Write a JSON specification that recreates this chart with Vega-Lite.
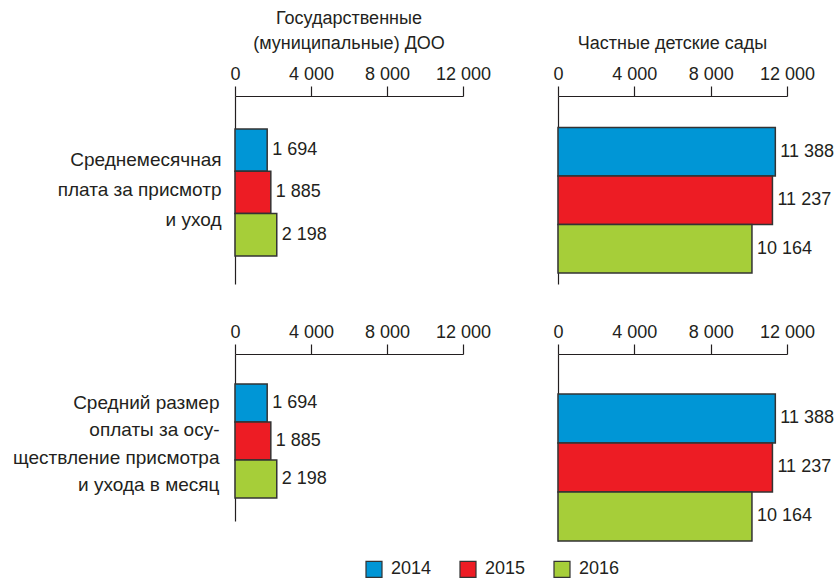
{
  "$schema": "https://vega.github.io/schema/vega-lite/v6.json",
  "background": "white",
  "padding": {"left": 12, "top": 10, "right": 5, "bottom": 0},
  "config": {
    "font": "Liberation Sans",
    "view": {"stroke": null},
    "locale": {"number": {"decimal": ",", "thousands": " ", "grouping": [3], "currency": ["", ""]}},
    "title": {"fontSize": 18, "fontWeight": "normal", "color": "#231f20", "anchor": "middle", "offset": 12, "lineHeight": 25},
    "axis": {"labelFontSize": 18, "labelColor": "#231f20", "domainColor": "#231f20", "tickColor": "#231f20", "grid": false},
    "legend": {"labelFontSize": 18, "labelColor": "#231f20"}
  },
  "data": {
    "values": [
      {"row": "a", "col": "gov", "year": "2014", "value": 1694},
      {"row": "a", "col": "gov", "year": "2015", "value": 1885},
      {"row": "a", "col": "gov", "year": "2016", "value": 2198},
      {"row": "a", "col": "priv", "year": "2014", "value": 11388},
      {"row": "a", "col": "priv", "year": "2015", "value": 11237},
      {"row": "a", "col": "priv", "year": "2016", "value": 10164},
      {"row": "b", "col": "gov", "year": "2014", "value": 1694},
      {"row": "b", "col": "gov", "year": "2015", "value": 1885},
      {"row": "b", "col": "gov", "year": "2016", "value": 2198},
      {"row": "b", "col": "priv", "year": "2014", "value": 11388},
      {"row": "b", "col": "priv", "year": "2015", "value": 11237},
      {"row": "b", "col": "priv", "year": "2016", "value": 10164}
    ]
  },
  "columns": 2,
  "bounds": "flush",
  "spacing": {"column": 95, "row": 70},
  "resolve": {"scale": {"y": "independent", "x": "independent"}},
  "concat": [
    {
      "width": 228, "height": 188,
      "title": {"text": ["Государственные", "(муниципальные) ДОО"]},
      "transform": [{"filter": "datum.row === 'a' && datum.col === 'gov'"}],
      "encoding": {
        "y": {"field": "year", "type": "nominal", "scale": {"paddingInner": 0, "paddingOuter": 0.72, "align": 0.54},
          "axis": {"labels": false, "ticks": false, "domainWidth": 1.2, "title": ["Среднемесячная", "плата за присмотр", "и уход"], "titleAngle": 0, "titleAlign": "right", "titleBaseline": "middle", "titleX": -14, "titleY": 63, "titleFontSize": 19, "titleFontWeight": "normal", "titleColor": "#231f20", "titleLineHeight": 30}},
        "x": {"field": "value", "type": "quantitative", "scale": {"domain": [0, 12000], "nice": false},
          "axis": {"orient": "top", "values": [0, 4000, 8000, 12000], "format": ",d", "tickSize": 10, "labelPadding": 3, "title": null, "domainWidth": 1.2, "tickWidth": 1.2, "labelFlush": false}}
      },
      "layer": [
        {"mark": {"type": "bar", "stroke": "#333333", "strokeWidth": 1.5},
          "encoding": {"fill": {"field": "year", "type": "nominal", "scale": {"domain": ["2014", "2015", "2016"], "range": ["#0096d6", "#ed1c24", "#a6ce39"]},
            "legend": {"title": null, "orient": "none", "legendX": 130, "legendY": 464, "direction": "horizontal", "symbolType": "square", "symbolSize": 256, "symbolStrokeColor": "#333333", "symbolStrokeWidth": 1.2, "columnPadding": 25, "labelOffset": 8}}}},
        {"mark": {"type": "text", "align": "left", "baseline": "middle", "dx": 5, "fontSize": 18, "color": "#231f20"},
          "encoding": {"text": {"field": "value", "type": "quantitative", "format": ",d"}}}
      ]
    },
    {
      "width": 229, "height": 188,
      "title": {"text": "Частные детские сады"},
      "transform": [{"filter": "datum.row === 'a' && datum.col === 'priv'"}],
      "encoding": {
        "y": {"field": "year", "type": "nominal", "scale": {"paddingInner": 0, "paddingOuter": 0.44, "align": 0.74},
          "axis": {"labels": false, "ticks": false, "domainWidth": 1.2, "title": null}},
        "x": {"field": "value", "type": "quantitative", "scale": {"domain": [0, 12000], "nice": false},
          "axis": {"orient": "top", "values": [0, 4000, 8000, 12000], "format": ",d", "tickSize": 10, "labelPadding": 3, "title": null, "domainWidth": 1.2, "tickWidth": 1.2, "labelFlush": false}}
      },
      "layer": [
        {"mark": {"type": "bar", "stroke": "#333333", "strokeWidth": 1.5},
          "encoding": {"fill": {"field": "year", "type": "nominal", "scale": {"domain": ["2014", "2015", "2016"], "range": ["#0096d6", "#ed1c24", "#a6ce39"]}, "legend": null}}},
        {"mark": {"type": "text", "align": "left", "baseline": "middle", "dx": 5, "fontSize": 18, "color": "#231f20"},
          "encoding": {"text": {"field": "value", "type": "quantitative", "format": ",d"}}}
      ]
    },
    {
      "width": 228, "height": 167,
      "transform": [{"filter": "datum.row === 'b' && datum.col === 'gov'"}],
      "encoding": {
        "y": {"field": "year", "type": "nominal", "scale": {"paddingInner": 0, "paddingOuter": 0.7, "align": 0.566},
          "axis": {"labels": false, "ticks": false, "domainWidth": 1.2, "title": ["Средний размер", "оплаты за осу-", "ществление присмотра", "и ухода в месяц"], "titleAngle": 0, "titleAlign": "right", "titleBaseline": "middle", "titleX": -16, "titleY": 48, "titleFontSize": 19, "titleFontWeight": "normal", "titleColor": "#231f20", "titleLineHeight": 27.5}},
        "x": {"field": "value", "type": "quantitative", "scale": {"domain": [0, 12000], "nice": false},
          "axis": {"orient": "top", "values": [0, 4000, 8000, 12000], "format": ",d", "tickSize": 10, "labelPadding": 3, "title": null, "domainWidth": 1.2, "tickWidth": 1.2, "labelFlush": false}}
      },
      "layer": [
        {"mark": {"type": "bar", "stroke": "#333333", "strokeWidth": 1.5},
          "encoding": {"fill": {"field": "year", "type": "nominal", "scale": {"domain": ["2014", "2015", "2016"], "range": ["#0096d6", "#ed1c24", "#a6ce39"]}, "legend": null}}},
        {"mark": {"type": "text", "align": "left", "baseline": "middle", "dx": 5, "fontSize": 18, "color": "#231f20"},
          "encoding": {"text": {"field": "value", "type": "quantitative", "format": ",d"}}}
      ]
    },
    {
      "width": 229, "height": 187,
      "transform": [{"filter": "datum.row === 'b' && datum.col === 'priv'"}],
      "encoding": {
        "y": {"field": "year", "type": "nominal", "scale": {"paddingInner": 0, "paddingOuter": 0.408, "align": 1},
          "axis": {"labels": false, "ticks": false, "domainWidth": 1.2, "title": null}},
        "x": {"field": "value", "type": "quantitative", "scale": {"domain": [0, 12000], "nice": false},
          "axis": {"orient": "top", "values": [0, 4000, 8000, 12000], "format": ",d", "tickSize": 10, "labelPadding": 3, "title": null, "domainWidth": 1.2, "tickWidth": 1.2, "labelFlush": false}}
      },
      "layer": [
        {"mark": {"type": "bar", "stroke": "#333333", "strokeWidth": 1.5},
          "encoding": {"fill": {"field": "year", "type": "nominal", "scale": {"domain": ["2014", "2015", "2016"], "range": ["#0096d6", "#ed1c24", "#a6ce39"]}, "legend": null}}},
        {"mark": {"type": "text", "align": "left", "baseline": "middle", "dx": 5, "fontSize": 18, "color": "#231f20"},
          "encoding": {"text": {"field": "value", "type": "quantitative", "format": ",d"}}}
      ]
    }
  ]
}
